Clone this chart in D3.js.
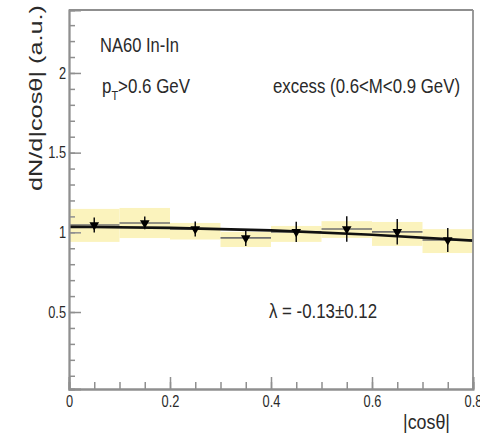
<!DOCTYPE html>
<html><head><meta charset="utf-8">
<script src="https://cdn.jsdelivr.net/npm/d3@7"></script>
<style>
html,body{margin:0;padding:0;background:#fff;}
svg{display:block;font-family:"Liberation Sans",Arial,sans-serif;}
</style></head>
<body>
<svg id="chart" width="480" height="437"></svg>
<script>
// ---- data ----
const binLo   = [0.0, 0.1, 0.2, 0.3, 0.4, 0.5, 0.6, 0.7];
const binHi   = [0.1, 0.2, 0.3, 0.4, 0.5, 0.6, 0.7, 0.8];
const binMid  = [0.05, 0.15, 0.25, 0.35, 0.45, 0.55, 0.65, 0.75];
const values  = [1.046, 1.059, 1.021, 0.965, 1.003, 1.021, 1.003, 0.952];
const statErr = [0.047, 0.040, 0.047, 0.050, 0.063, 0.080, 0.080, 0.075];
const sysHi   = [1.147, 1.153, 1.059, 1.003, 1.040, 1.070, 1.065, 1.020];
const sysLo   = [0.940, 0.964, 0.955, 0.908, 0.940, 0.965, 0.915, 0.870];
const fitX    = [0.0, 0.2, 0.4, 0.6, 0.8];
const fitY    = [1.034, 1.028, 1.012, 0.985, 0.948];
const xMajorTicks = [0, 0.2, 0.4, 0.6, 0.8];
const xTickLabels = ["0", "0.2", "0.4", "0.6", "0.8"];
const yMajorTicks = [0.5, 1, 1.5, 2];
const yTickLabels = ["0.5", "1", "1.5", "2"];
const xMinorTicks = d3.range(0, 17).map(i => i * 0.05);
const yMinorTicks = d3.range(1, 24).map(i => i * 0.1);

const svg = d3.select("#chart");
const x = d3.scaleLinear().domain([0, 0.8]).range([69, 473]);
const y = d3.scaleLinear().domain([0.017, 2.395]).range([389, 10]);

const axisColor = "#8f8f8f";
const textColor = "#2a2a2a";

// systematic boxes
svg.append("g").selectAll("rect").data(binLo).join("rect")
  .attr("x", (d, i) => x(binLo[i]))
  .attr("width", (d, i) => x(binHi[i]) - x(binLo[i]))
  .attr("y", (d, i) => y(sysHi[i]))
  .attr("height", (d, i) => y(sysLo[i]) - y(sysHi[i]))
  .attr("fill", "#fbf3bd");

// horizontal bin lines (x errors)
svg.append("g").selectAll("line").data(values).join("line")
  .attr("x1", (d, i) => x(binLo[i])).attr("x2", (d, i) => x(binHi[i]))
  .attr("y1", d => y(d)).attr("y2", d => y(d))
  .attr("stroke", "#707070").attr("stroke-width", 1.6);

// fit curve
svg.append("path")
  .datum(fitX.map((d, i) => [d, fitY[i]]))
  .attr("d", d3.line().x(d => x(d[0])).y(d => y(d[1])).curve(d3.curveMonotoneX))
  .attr("fill", "none").attr("stroke", "#111").attr("stroke-width", 2.6);

// stat error bars
svg.append("g").selectAll("line").data(values).join("line")
  .attr("x1", (d, i) => x(binMid[i])).attr("x2", (d, i) => x(binMid[i]))
  .attr("y1", (d, i) => y(d + statErr[i])).attr("y2", (d, i) => y(d - statErr[i]))
  .attr("stroke", "#111").attr("stroke-width", 1.5);

// markers: downward triangles
svg.append("g").selectAll("path").data(values).join("path")
  .attr("d", d3.symbol().type(d3.symbolTriangle).size(40))
  .attr("transform", (d, i) => `translate(${x(binMid[i])},${y(d)}) rotate(180)`)
  .attr("fill", "#000");

// frame top & right
svg.append("line").attr("x1", 69).attr("x2", 473).attr("y1", 10).attr("y2", 10)
  .attr("stroke", axisColor).attr("stroke-width", 1.8);
svg.append("line").attr("x1", 473).attr("x2", 473).attr("y1", 10).attr("y2", 389)
  .attr("stroke", axisColor).attr("stroke-width", 1.8);

function styleAxis(g) {
  g.select(".domain").attr("stroke", axisColor).attr("stroke-width", 1.8);
  g.selectAll(".tick line").attr("stroke", axisColor).attr("stroke-width", 1.5);
  g.selectAll("text").attr("fill", textColor).attr("font-size", 16)
    .attr("font-family", "'Liberation Sans', Arial, sans-serif");
}

// x minor
const gxm = svg.append("g").attr("transform", "translate(0,389)")
  .call(d3.axisBottom(x).tickValues(xMinorTicks).tickSize(-7).tickFormat(""));
styleAxis(gxm);
// x major
const gx = svg.append("g").attr("transform", "translate(0,389)")
  .call(d3.axisBottom(x).tickValues(xMajorTicks).tickSize(-12).tickPadding(7)
    .tickFormat((d, i) => xTickLabels[i]));
styleAxis(gx);
gx.selectAll("text").attr("transform", "scale(0.8,1)");

// y minor
const gym = svg.append("g").attr("transform", "translate(69,0)")
  .call(d3.axisLeft(y).tickValues(yMinorTicks).tickSize(-6).tickFormat(""));
styleAxis(gym);
// y major
const gy = svg.append("g").attr("transform", "translate(69,0)")
  .call(d3.axisLeft(y).tickValues(yMajorTicks).tickSize(-12).tickPadding(3)
    .tickFormat((d, i) => yTickLabels[i]));
styleAxis(gy);
gy.selectAll("text").attr("x", -3 / 0.8).attr("transform", "scale(0.8,1)");

// texts
const t = (txt, xx, yy, len, size) => svg.append("text")
  .attr("x", xx).attr("y", yy).attr("font-size", size).attr("fill", textColor)
  .attr("textLength", len).attr("lengthAdjust", "spacingAndGlyphs").text(txt);

t("NA60 In-In", 100, 52, 79, 20);
t("excess (0.6<M<0.9 GeV)", 273, 93, 187, 20);
t("\u03BB = -0.13\u00B10.12", 269, 318, 108, 20);
t("|cos\u03B8|", 403, 429, 47, 20);

const pt = svg.append("text").attr("x", 102).attr("y", 93).attr("font-size", 20)
  .attr("fill", textColor).attr("textLength", 88).attr("lengthAdjust", "spacingAndGlyphs");
pt.append("tspan").text("p");
pt.append("tspan").attr("font-size", 13).attr("dy", 7).text("T");
pt.append("tspan").attr("dy", -7).text(">0.6 GeV");

svg.append("text")
  .attr("transform", "translate(42,191) rotate(-90)")
  .attr("font-size", 18).attr("fill", textColor)
  .attr("textLength", 186).attr("lengthAdjust", "spacingAndGlyphs")
  .text("dN/d|cos\u03B8| (a.u.)");
</script>
</body></html>
